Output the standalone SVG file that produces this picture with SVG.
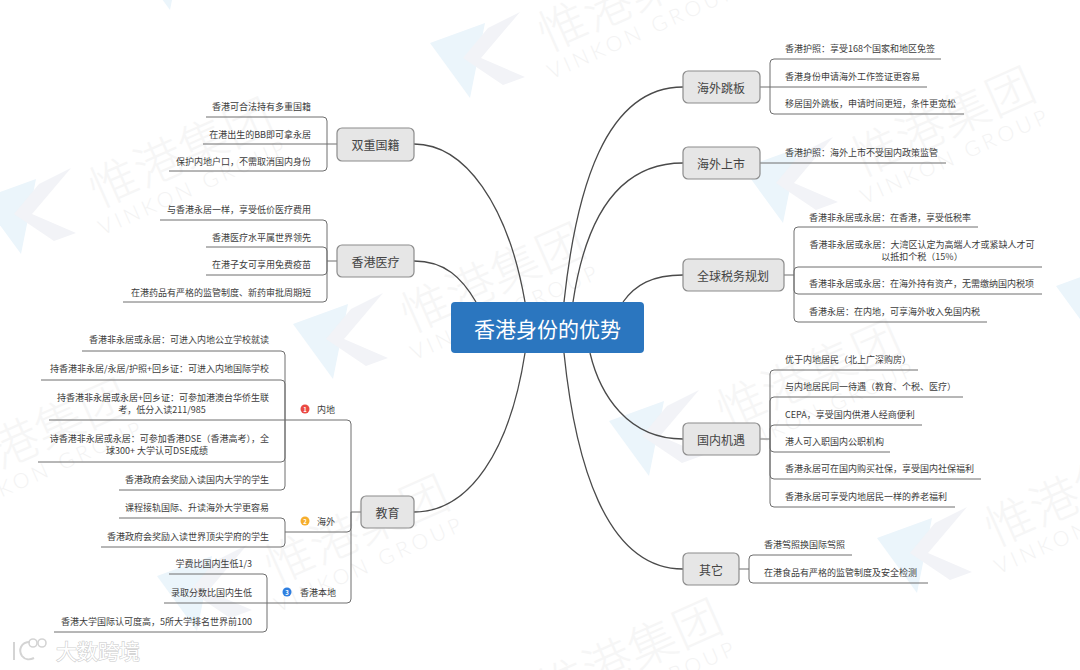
<svg xmlns="http://www.w3.org/2000/svg" width="1080" height="670" viewBox="0 0 1080 670">
<style>
text{font-family:"Noto Sans CJK SC","Noto Sans",sans-serif;dominant-baseline:central}
.wm{font-size:48px;fill:#f6f6f6;text-anchor:middle;letter-spacing:1px;font-weight:300}
.wme{font-family:"Lato","Noto Sans",sans-serif;font-size:21px;fill:#f3f3f3;text-anchor:middle;letter-spacing:4px;font-weight:300}
.main{fill:#e6e6e6;stroke:#8c8c8c;stroke-width:1.2}
.mt{font-size:12px;fill:#444;text-anchor:middle}
.l{font-size:9px;fill:#3c3c3c}
.r{text-anchor:end}
.m{text-anchor:middle}
.c{fill:none;stroke:#4a4a4a;stroke-width:1.3}
.b{fill:none;stroke:#6e6e6e;stroke-width:1}
.ic{font-size:6px;fill:#fff;text-anchor:middle;font-weight:700}
</style>
<defs>
<g id="k"><path d="M0,31 L55,11 L40,86 Z" fill="#ebf5fb"/><path d="M90,0 L51,46 L95,65 L73,73 L33,46 L58,16 Z" fill="#f2f3f7"/></g>
</defs>
<rect width="1080" height="670" fill="#fff"/>
<g id="watermarks">
<use href="#k" x="-19" y="168"/><use href="#k" x="743" y="137"/><use href="#k" x="293" y="293"/><use href="#k" x="430" y="12"/><use href="#k" x="609" y="390"/><use href="#k" x="877" y="507"/><use href="#k" x="1056" y="255"/><use href="#k" x="157" y="545"/><use href="#k" x="130" y="-76"/>
<text class="wm" transform="translate(180 149) rotate(-24)">惟港集团</text><text class="wme" transform="translate(193 186) rotate(-24)">VINKON GROUP</text>
<text class="wm" transform="translate(942 118) rotate(-24)">惟港集团</text><text class="wme" transform="translate(955 155) rotate(-24)">VINKON GROUP</text>
<text class="wm" transform="translate(492 274) rotate(-24)">惟港集团</text><text class="wme" transform="translate(505 311) rotate(-24)">VINKON GROUP</text>
<text class="wm" transform="translate(629 -7) rotate(-24)">惟港集团</text><text class="wme" transform="translate(642 30) rotate(-24)">VINKON GROUP</text>
<text class="wm" transform="translate(808 371) rotate(-24)">惟港集团</text><text class="wme" transform="translate(821 408) rotate(-24)">VINKON GROUP</text>
<text class="wm" transform="translate(1076 488) rotate(-24)">惟港集团</text><text class="wme" transform="translate(1089 525) rotate(-24)">VINKON GROUP</text>
<text class="wm" transform="translate(356 526) rotate(-24)">惟港集团</text><text class="wme" transform="translate(369 563) rotate(-24)">VINKON GROUP</text>
<text class="wm" transform="translate(629 650) rotate(-24)">惟港集团</text><text class="wme" transform="translate(642 687) rotate(-24)">VINKON GROUP</text>
<text class="wm" transform="translate(36 430) rotate(-24)">惟港集团</text><text class="wme" transform="translate(49 467) rotate(-24)">VINKON GROUP</text>
</g>
<g id="connectors">
<path class="c" d="M564,302 C576,190 605,87 683,87"/>
<path class="c" d="M573,302 C586,215 620,163 683,163"/>
<path class="c" d="M623,302 C635,285 652,275 683,275"/>
<path class="c" d="M590,353 C600,395 628,439 683,439"/>
<path class="c" d="M564,353 C575,460 605,569 683,569"/>
<path class="c" d="M414,144 C465,144 508,205 525,302"/>
<path class="c" d="M414,261 C445,261 462,278 476,302"/>
<path class="c" d="M414,512 C470,512 510,450 525,353"/>
<path class="b" d="M760,87 H927 M770,87 V63 Q770,59 774,59 H941 M770,87 V110 Q770,114 774,114 H964"/>
<path class="b" d="M760,163 H946"/>
<path class="b" d="M784,275 H794 M794,275 V231 Q794,227 798,227 H978 M794,275 V271 Q794,267 798,267 H1042 M794,275 V290 Q794,294 798,294 H1042 M794,275 V318 Q794,322 798,322 H987"/>
<path class="b" d="M760,439 H770 M770,439 V374 Q770,370 774,370 H918 M770,439 V401 Q770,397 774,397 H963 M770,439 V429 Q770,425 774,425 H922 M770,439 V448 Q770,452 774,452 H890 M770,439 V475 Q770,479 774,479 H981 M770,439 V503 Q770,507 774,507 H955"/>
<path class="b" d="M739,569 H749 M749,569 V559 Q749,555 753,555 H852 M749,569 V579 Q749,583 753,583 H928"/>
<path class="b" d="M337,144 H203 M327,144 V121 Q327,117 323,117 H206 M327,144 V167 Q327,171 323,171 H169"/>
<path class="b" d="M337,261 H327 M327,261 V224 Q327,220 323,220 H160 M327,261 V251 Q327,247 323,247 H206 M327,261 V271 Q327,275 323,275 H206 M327,261 V298 Q327,302 323,302 H123"/>
<path class="b" d="M361,512 H351 M351,512 V424 Q351,420 347,420 H49 M351,512 V528 Q351,532 347,532 H285 M351,512 V599 Q351,603 347,603 H164"/>
<path class="b" d="M285,420 V355 Q285,351 281,351 H82 M285,420 V384 Q285,380 281,380 H41 M285,420 V458 Q285,462 281,462 H38 M285,420 V486 Q285,490 281,490 H119"/>
<path class="b" d="M285,532 V522 Q285,518 281,518 H119 M285,532 V543 Q285,547 281,547 H101"/>
<path class="b" d="M267,603 V578 Q267,574 263,574 H169 M267,603 V628 Q267,632 263,632 H54"/>
</g>
<g id="root"><rect x="451" y="302" width="193" height="51" rx="4" fill="#2b76bf"/><text x="547.5" y="328" font-size="21" fill="#fff" text-anchor="middle">香港身份的优势</text></g>
<g id="n-haiwaitiaoban"><rect class="main" x="683" y="71" width="77" height="32" rx="5"/><text class="mt" x="721" y="87">海外跳板</text>
<text class="l" x="785" y="48">香港护照&#xFF1A;享受168个国家和地区免签</text><text class="l" x="785" y="76">香港身份申请海外工作签证更容易</text><text class="l" x="785" y="103">移居国外跳板&#xFF0C;申请时间更短&#xFF0C;条件更宽松</text></g>
<g id="n-haiwaishangshi"><rect class="main" x="683" y="147" width="77" height="32" rx="5"/><text class="mt" x="721" y="163">海外上市</text>
<text class="l" x="785" y="152">香港护照&#xFF1A;海外上市不受国内政策监管</text></g>
<g id="n-shuiwu"><rect class="main" x="683" y="259" width="101" height="32" rx="5"/><text class="mt" x="733" y="275">全球税务规划</text>
<text class="l" x="809" y="217">香港非永居或永居&#xFF1A;在香港&#xFF0C;享受低税率</text><text class="l m" x="922" y="244">香港非永居或永居&#xFF1A;大湾区认定为高端人才或紧缺人才可</text><text class="l m" x="922" y="256">以抵扣个税&#xFF08;15%&#xFF09;</text><text class="l" x="809" y="283">香港非永居或永居&#xFF1A;在海外持有资产&#xFF0C;无需缴纳国内税项</text><text class="l" x="809" y="311">香港永居&#xFF1A;在内地&#xFF0C;可享海外收入免国内税</text></g>
<g id="n-guonei"><rect class="main" x="683" y="423" width="77" height="32" rx="5"/><text class="mt" x="721" y="439">国内机遇</text>
<text class="l" x="785" y="359">优于内地居民&#xFF08;北上广深购房&#xFF09;</text><text class="l" x="785" y="386">与内地居民同一待遇&#xFF08;教育、个税、医疗&#xFF09;</text><text class="l" x="785" y="414">CEPA&#xFF0C;享受国内供港人经商便利</text><text class="l" x="785" y="441">港人可入职国内公职机构</text><text class="l" x="785" y="468">香港永居可在国内购买社保&#xFF0C;享受国内社保福利</text><text class="l" x="785" y="496">香港永居可享受内地居民一样的养老福利</text></g>
<g id="n-qita"><rect class="main" x="683" y="553" width="56" height="32" rx="5"/><text class="mt" x="711" y="569">其它</text>
<text class="l" x="764" y="544">香港驾照换国际驾照</text><text class="l" x="764" y="572">在港食品有严格的监管制度及安全检测</text></g>
<g id="n-shuangchong"><rect class="main" x="337" y="128" width="77" height="33" rx="5"/><text class="mt" x="375.5" y="144">双重国籍</text>
<text class="l r" x="311" y="106">香港可合法持有多重国籍</text><text class="l r" x="311" y="134">在港出生的BB即可拿永居</text><text class="l r" x="311" y="161">保护内地户口&#xFF0C;不需取消国内身份</text></g>
<g id="n-yiliao"><rect class="main" x="337" y="245" width="77" height="32" rx="5"/><text class="mt" x="375.5" y="261">香港医疗</text>
<text class="l r" x="311" y="209">与香港永居一样&#xFF0C;享受低价医疗费用</text><text class="l r" x="311" y="237">香港医疗水平属世界领先</text><text class="l r" x="311" y="264">在港子女可享用免费疫苗</text><text class="l r" x="311" y="292">在港药品有严格的监管制度、新药审批周期短</text></g>
<g id="n-jiaoyu"><rect class="main" x="361" y="496" width="53" height="32" rx="5"/><text class="mt" x="387.5" y="512">教育</text></g>
<g id="b-neidi"><circle cx="305" cy="409" r="4.5" fill="#ea4a43"/><text class="ic" x="305" y="409">1</text><text class="l" x="317" y="409">内地</text>
<text class="l r" x="269" y="339">香港非永居或永居&#xFF1A;可进入内地公立学校就读</text><text class="l r" x="269" y="368">持香港非永居/永居/护照+回乡证&#xFF1A;可进入内地国际学校</text><text class="l r" x="269" y="397">持香港非永居或永居+回乡证&#xFF1A;可参加港澳台华侨生联</text><text class="l m" x="162" y="409">考&#xFF0C;低分入读211/985</text><text class="l r" x="269" y="438">诗香港非永居或永居&#xFF1A;可参加香港DSE&#xFF08;香港高考&#xFF09;&#xFF0C;全</text><text class="l m" x="157" y="450">球300+ 大学认可DSE成绩</text><text class="l r" x="269" y="479">香港政府会奖励入读国内大学的学生</text></g>
<g id="b-haiwai"><circle cx="305" cy="521" r="4.5" fill="#f6ae2d"/><text class="ic" x="305" y="521">2</text><text class="l" x="317" y="521">海外</text>
<text class="l r" x="269" y="507">课程接轨国际、升读海外大学更容易</text><text class="l r" x="269" y="536">香港政府会奖励入读世界顶尖学府的学生</text></g>
<g id="b-bendi"><circle cx="287" cy="592" r="4.5" fill="#2f7fe0"/><text class="ic" x="287" y="592">3</text><text class="l" x="300" y="592">香港本地</text>
<text class="l r" x="252" y="563">学费比国内生低1/3</text><text class="l r" x="252" y="592">录取分数比国内生低</text><text class="l r" x="252" y="621">香港大学国际认可度高&#xFF0C;5所大学排名世界前100</text></g>
<g id="footer-mark">
<path d="M14,642 V660 M30,642 C21,642 18,650 22,656 C25,660 30,660 34,658" fill="none" stroke="#d4d4d4" stroke-width="2"/>
<circle cx="33" cy="643" r="4" fill="none" stroke="#d4d4d4" stroke-width="1.6"/><circle cx="42" cy="643" r="4" fill="none" stroke="#d4d4d4" stroke-width="1.6"/>
<text x="56" y="650" font-size="21" fill="#fff" stroke="#cfcfcf" stroke-width="1.2" paint-order="stroke">大数跨境</text>
</g>
</svg>
